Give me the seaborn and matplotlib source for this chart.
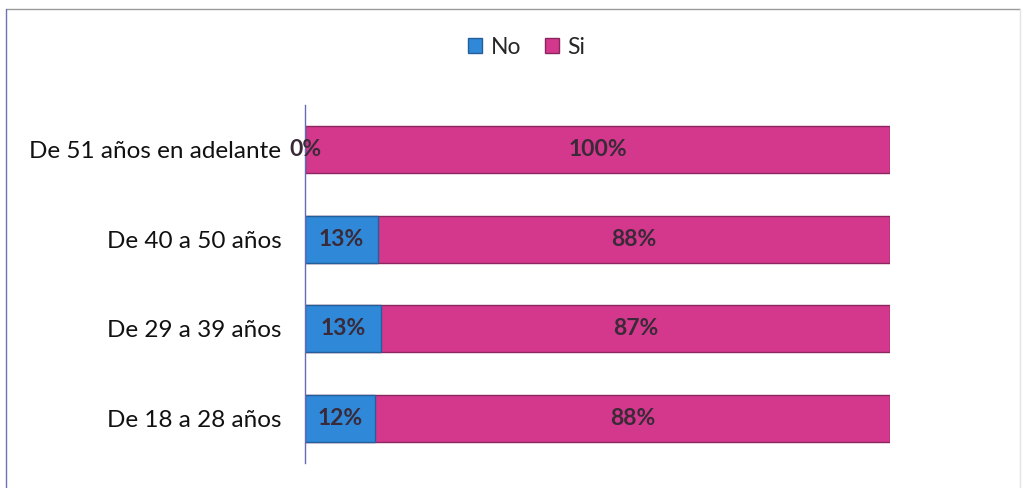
import numpy as np
import pandas as pd
import seaborn as sns
import matplotlib.pyplot as plt
from matplotlib.lines import Line2D
from matplotlib.patches import Patch

# categories, top to bottom
categories = ["De 51 años en adelante", "De 40 a 50 años", "De 29 a 39 años", "De 18 a 28 años"]
no_pct = [0.0, 12.5, 13.0, 12.0]
si_pct = [100.0, 87.5, 87.0, 88.0]
no_labels = ["0%", "13%", "13%", "12%"]
si_labels = ["100%", "88%", "87%", "88%"]

blue = "#2F88D8"
pink = "#D4388C"
text_dark = "#3a2a38"

sns.set_theme(style="white")
plt.rcParams['font.family'] = ['Lato', 'DejaVu Sans']

df = pd.DataFrame({"cat": categories, "No": no_pct, "Si": si_pct})
df["total"] = df["No"] + df["Si"]

fig = plt.figure(figsize=(10.26, 4.88), dpi=100)
ax = fig.add_axes([305 / 1026, 1 - 463 / 488, 585 / 1026, 358 / 488])

# stacked bars: full bar in pink, then "No" over it in blue
sns.barplot(data=df, x="total", y="cat", color=pink, width=0.525,
            edgecolor="#8c2660", linewidth=1, saturation=1, ax=ax)
sns.barplot(data=df, x="No", y="cat", color=blue, width=0.525,
            edgecolor="#245f9a", linewidth=1, saturation=1, ax=ax)

for i in range(len(categories)):
    ax.text(no_pct[i] / 2, i, no_labels[i], ha="center", va="center",
            fontsize=16.5, fontweight="bold", color=text_dark)
    ax.text(no_pct[i] + si_pct[i] / 2, i, si_labels[i], ha="center", va="center",
            fontsize=16.5, fontweight="bold", color=text_dark)

ax.set_xlim(0, 100)
ax.set_ylim(3.5, -0.5)
ax.set_xlabel("")
ax.set_ylabel("")
ax.set_xticks([])
ax.tick_params(axis="y", length=0, pad=17, labelsize=17.5, labelcolor="#111111")
for side in ["top", "right", "bottom"]:
    ax.spines[side].set_visible(False)
ax.spines["left"].set_color("#6a6ab0")
ax.spines["left"].set_linewidth(1)

handles = [Patch(facecolor=blue, edgecolor="#245f9a"), Patch(facecolor=pink, edgecolor="#8c2660")]
fig.legend(handles, ["No", "Si"], loc="center", bbox_to_anchor=(527 / 1026, 1 - 47 / 488),
           ncol=2, frameon=False, fontsize=16.5, handlelength=0.6, handleheight=0.6,
           handletextpad=0.4, columnspacing=1.0)

# outer chart frame
fig.add_artist(Line2D([6 / 1026, 1020 / 1026], [1 - 9 / 488, 1 - 9 / 488], color="#999999", lw=1))
fig.add_artist(Line2D([6 / 1026, 6 / 1026], [0, 1 - 9 / 488], color="#7070b8", lw=1))
fig.add_artist(Line2D([1020 / 1026, 1020 / 1026], [0, 1 - 9 / 488], color="#e4e4e4", lw=1))

fig.savefig("out.png", dpi=100)
